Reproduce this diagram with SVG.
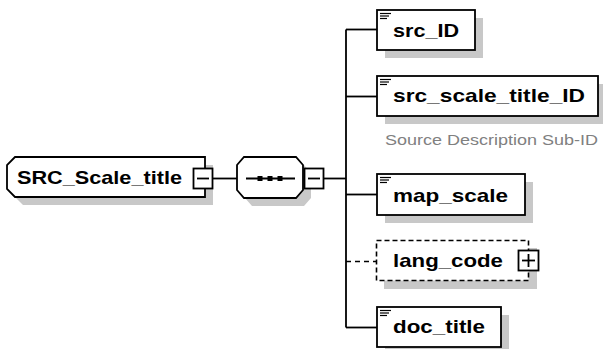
<svg xmlns="http://www.w3.org/2000/svg" width="603" height="349" viewBox="0 0 603 349">
<style>
.bg{fill:#ffffff}
.sh{fill:#c8c8c8;stroke:none}
.box{fill:#ffffff;stroke:#000000;stroke-width:1.8}
.dbox{fill:#ffffff;stroke:#000000;stroke-width:1.6;stroke-dasharray:5 3}
.ln{fill:none;stroke:#000000;stroke-width:1.8}
.dln{fill:none;stroke:#000000;stroke-width:1.6;stroke-dasharray:5 4}
.lbl{font-family:"Liberation Sans",Arial,sans-serif;font-weight:bold;font-size:19px;fill:#000000}
.doc{font-family:"Liberation Sans",Arial,sans-serif;font-size:15px;fill:#808080}
.ic{stroke:#000000;stroke-width:1.2}
.sq{fill:#000000}
</style>
<rect class="bg" x="0" y="0" width="603" height="349"/>

<g id="connectors">
  <line class="ln" x1="213" y1="178.5" x2="237" y2="178.5"/>
  <line class="ln" x1="324" y1="178.5" x2="346" y2="178.5"/>
  <line class="ln" x1="346" y1="29.5" x2="346" y2="327.5"/>
  <line class="ln" x1="346" y1="29.5" x2="377" y2="29.5"/>
  <line class="ln" x1="346" y1="96.5" x2="377" y2="96.5"/>
  <line class="ln" x1="346" y1="194.5" x2="377" y2="194.5"/>
  <line class="dln" x1="346" y1="261.5" x2="377" y2="261.5"/>
  <line class="ln" x1="346" y1="327.5" x2="377" y2="327.5"/>
</g>

<g id="SRC_Scale_title">
  <polygon class="sh" points="23,165 213,165 213,205 23,205 15,197 15,173"/>
  <polygon class="box" points="15,157 205,157 205,197 15,197 7,189 7,165"/>
  <text class="lbl" x="17" y="184" textLength="165" lengthAdjust="spacingAndGlyphs">SRC_Scale_title</text>
  <rect class="box" x="193.5" y="168.5" width="19" height="20"/>
  <line class="ln" x1="197" y1="178.5" x2="209" y2="178.5"/>
</g>

<g id="sequence">
  <polygon class="sh" points="252,165 304,165 311,173 311,198 304,206 252,206 245,198 245,173"/>
  <polygon class="box" points="244,157 296,157 303,165 303,190 296,198 244,198 237,190 237,165"/>
  <line class="ln" x1="246" y1="178.5" x2="295" y2="178.5"/>
  <rect class="sq" x="257.5" y="176" width="5" height="5"/>
  <rect class="sq" x="267.5" y="176" width="5" height="5"/>
  <rect class="sq" x="277.5" y="176" width="5" height="5"/>
  <rect class="box" x="304.5" y="168.5" width="19" height="20"/>
  <line class="ln" x1="308" y1="178.5" x2="320" y2="178.5"/>
</g>

<g id="src_ID">
  <rect class="sh" x="385" y="18" width="98" height="40"/>
  <rect class="box" x="377" y="10" width="98" height="40"/>
  <line class="ic" x1="380" y1="13.5" x2="391" y2="13.5"/>
  <line class="ic" x1="380" y1="16" x2="389" y2="16"/>
  <line class="ic" x1="380" y1="18.5" x2="387" y2="18.5"/>
  <text class="lbl" x="393" y="37" textLength="66" lengthAdjust="spacingAndGlyphs">src_ID</text>
</g>

<g id="src_scale_title_ID">
  <rect class="sh" x="385" y="84" width="221" height="40"/>
  <rect class="box" x="377" y="76" width="221" height="40"/>
  <line class="ic" x1="380" y1="79.5" x2="391" y2="79.5"/>
  <line class="ic" x1="380" y1="82" x2="389" y2="82"/>
  <line class="ic" x1="380" y1="84.5" x2="387" y2="84.5"/>
  <text class="lbl" x="393" y="102" textLength="192" lengthAdjust="spacingAndGlyphs">src_scale_title_ID</text>
  <text class="doc" x="385" y="145" textLength="213" lengthAdjust="spacingAndGlyphs">Source Description Sub-ID</text>
</g>

<g id="map_scale">
  <rect class="sh" x="385" y="182" width="148" height="41"/>
  <rect class="box" x="377" y="174" width="148" height="41"/>
  <line class="ic" x1="380" y1="177.5" x2="391" y2="177.5"/>
  <line class="ic" x1="380" y1="180" x2="389" y2="180"/>
  <line class="ic" x1="380" y1="182.5" x2="387" y2="182.5"/>
  <text class="lbl" x="393" y="201.5" textLength="115" lengthAdjust="spacingAndGlyphs">map_scale</text>
</g>

<g id="lang_code">
  <rect class="sh" x="384" y="248" width="153" height="41"/>
  <rect class="dbox" x="376.5" y="240.5" width="152" height="40"/>
  <text class="lbl" x="393" y="267" textLength="110" lengthAdjust="spacingAndGlyphs">lang_code</text>
  <rect class="box" x="518.5" y="250.5" width="20" height="20"/>
  <line class="ln" x1="522" y1="260.5" x2="535" y2="260.5"/>
  <line class="ln" x1="528.5" y1="254" x2="528.5" y2="267"/>
</g>

<g id="doc_title">
  <rect class="sh" x="385" y="315" width="124" height="34"/>
  <rect class="box" x="377" y="307" width="124" height="40"/>
  <line class="ic" x1="380" y1="310.5" x2="391" y2="310.5"/>
  <line class="ic" x1="380" y1="313" x2="389" y2="313"/>
  <line class="ic" x1="380" y1="315.5" x2="387" y2="315.5"/>
  <text class="lbl" x="393" y="333" textLength="92" lengthAdjust="spacingAndGlyphs">doc_title</text>
</g>
</svg>
